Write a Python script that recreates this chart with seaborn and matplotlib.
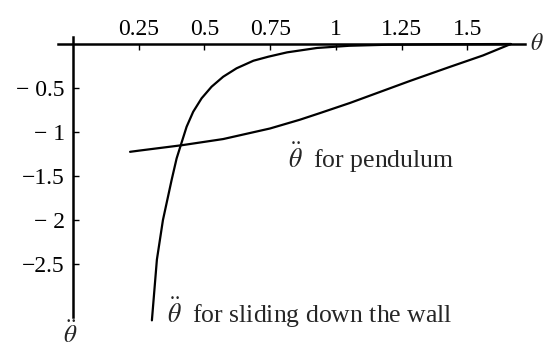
import matplotlib
matplotlib.use("Agg")
import matplotlib.pyplot as plt
import seaborn as sns
import pandas as pd

# data
sliding_x = [0.300, 0.319, 0.342, 0.375, 0.394, 0.410, 0.432, 0.457, 0.489, 0.527,
             0.571, 0.622, 0.686, 0.743, 0.814, 0.928, 1.05, 1.20, 1.40, 1.665]
sliding_y = [-3.14, -2.45, -2.00, -1.545, -1.30, -1.148, -0.94, -0.77, -0.617, -0.485,
             -0.372, -0.276, -0.19, -0.144, -0.095, -0.045, -0.020, -0.008, -0.003, 0.0]
pend_x = [0.217, 0.255, 0.414, 0.571, 0.749, 0.863, 0.939, 1.053, 1.281, 1.433, 1.559, 1.665]
pend_y = [-1.225, -1.21, -1.15, -1.08, -0.96, -0.86, -0.785, -0.67, -0.42, -0.26, -0.13, 0.0]
xticks = [0.25, 0.5, 0.75, 1.0, 1.25, 1.5]
xticklabels = ["0.25", "0.5", "0.75", "1", "1.25", "1.5"]
yticks = [-0.5, -1.0, -1.5, -2.0, -2.5]
yticklabels = ["\u2212 0.5", "\u2212 1", "\u22121.5", "\u2212 2", "\u22122.5"]

sns.set_theme(style="white")
plt.rcParams["font.family"] = ["Liberation Serif", "DejaVu Serif"]
plt.rcParams["mathtext.fontset"] = "stix"

df_s = pd.DataFrame({"theta": sliding_x, "acc": sliding_y})
df_p = pd.DataFrame({"theta": pend_x, "acc": pend_y})

fig = plt.figure(figsize=(5.44, 3.56), dpi=100)
ax = fig.add_axes([0, 0, 1, 1])
ax.set_facecolor("white")

sns.lineplot(data=df_s, x="theta", y="acc", ax=ax, color="black", lw=1.6, sort=False)
sns.lineplot(data=df_p, x="theta", y="acc", ax=ax, color="black", lw=1.6, sort=False)

ax.set_xlim(-0.2776, 1.791)
ax.set_ylim(-3.545, 0.5)

for s in ["bottom", "right"]:
    ax.spines[s].set_visible(False)
ax.spines["top"].set_position(("data", 0))
ax.spines["left"].set_position(("data", 0))
ax.spines["top"].set_bounds(-0.057, 1.72)
ax.spines["left"].set_bounds(-3.10, 0.08)
for s in ["top", "left"]:
    ax.spines[s].set_color("black")
    ax.spines[s].set_linewidth(1.8)

ax.xaxis.set_ticks_position("top")
ax.yaxis.set_ticks_position("left")
ax.set_xticks(xticks)
ax.set_xticklabels(xticklabels)
ax.set_yticks(yticks)
ax.set_yticklabels(yticklabels)
ax.tick_params(axis="x", direction="in", length=4, width=1, pad=3, labelsize=17, colors="black")
ax.tick_params(axis="y", direction="in", length=4, width=1, pad=6, labelsize=17, colors="black")
ax.set_xlabel("")
ax.set_ylabel("")

ax.text(1.737, 0.0, r"$\theta$", fontsize=17, ha="left", va="center")
ax.text(-0.011, -3.30, r"$\ddot{\theta}$", fontsize=18, ha="center", va="center")
ax.text(0.817, -1.295, r"$\ddot{\theta}$  for pendulum", fontsize=18.5, ha="left", va="center")
ax.text(0.357, -3.06, r"$\ddot{\theta}$  for sliding down the wall", fontsize=18.5, ha="left", va="center")

fig.savefig("out.png", dpi=100, facecolor="white")
